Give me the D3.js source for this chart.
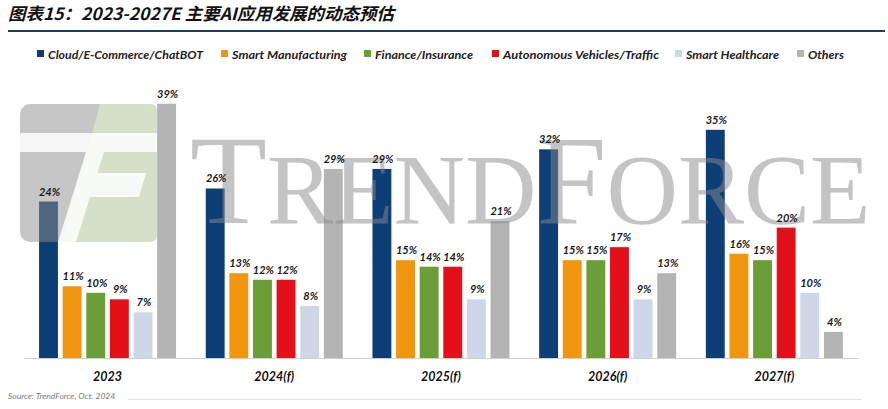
<!DOCTYPE html>
<html><head><meta charset="utf-8">
<script src="https://cdn.jsdelivr.net/npm/d3@7"></script>
<style>body{margin:0;background:#fff;}svg{display:block;}</style>
</head><body>
<svg id="c" width="888" height="409"></svg>
<script>
const years = ["2023","2024(f)","2025(f)","2026(f)","2027(f)"];
const seriesNames = ["Cloud/E-Commerce/ChatBOT","Smart Manufacturing","Finance/Insurance","Autonomous Vehicles/Traffic","Smart Healthcare","Others"];
const cloud      = [24,26,29,32,35];
const manufact   = [11,13,15,15,16];
const finance    = [10,12,14,15,15];
const autonomous = [9,12,14,17,20];
const health     = [7,8,9,9,10];
const others     = [39,29,21,13,4];
const colors = ["#0d3f77","#f0960f","#6b9e36","#e3101a","#cdd7e7","#b4b4b4"];
const legendX = [37,221,364,492,675,797];
const legendW = [155,115,98,156,93,36];
const title = "图表15：2023-2027E 主要AI应用发展的动态预估";
const source = "Source: TrendForce, Oct. 2024";

const allSeries = [cloud, manufact, finance, autonomous, health, others];
const svg = d3.select("#c");
const FONT = "Lato, 'Open Sans', sans-serif";

function drawWatermark(){
  const wm = svg.append("g").attr("opacity",0.5);
  wm.append("rect").attr("x",20).attr("y",104).attr("width",137).attr("height",138).attr("rx",10).attr("fill","#8e8e8e");
  wm.append("path").attr("d","M100,104 L150,104 Q157,104 157,111 L157,235 Q157,242 150,242 L62,242 Z").attr("fill","#aec093");
  const wmw = svg.append("g").attr("opacity",0.85);
  wmw.append("path").attr("d","M20,133 L157,133 L157,152 L20,152 Z").attr("fill","#fff");
  wmw.append("path").attr("d","M86,152 L104,152 L76,242 L58,242 Z").attr("fill","#fff");
  wmw.append("path").attr("d","M88,173 L146,173 L139,197 L80,197 Z").attr("fill","#fff");
  const wt = svg.append("text").attr("x",190).attr("y",223).attr("font-family","'Liberation Serif', serif")
    .attr("fill","#8a8a8a").attr("opacity",0.5);
  wt.append("tspan").attr("font-size",126).text("T");
  wt.append("tspan").attr("font-size",99).text("REND");
  wt.append("tspan").attr("font-size",126).text("F");
  wt.append("tspan").attr("font-size",99).text("ORCE");
}

// title
svg.append("text").attr("x",8).attr("y",20).attr("font-family","'Noto Sans CJK SC'")
  .attr("font-weight","bold").attr("font-style","italic").attr("font-size",17)
  .attr("fill","#111").attr("textLength",386).attr("lengthAdjust","spacingAndGlyphs").text(title);
svg.append("line").attr("x1",8).attr("x2",885).attr("y1",31).attr("y2",31)
  .attr("stroke","#1d3f66").attr("stroke-width",2.2);

// legend
seriesNames.forEach((n,i)=>{
  svg.append("rect").attr("x",legendX[i]).attr("y",50).attr("width",7).attr("height",7).attr("fill",colors[i]);
  svg.append("text").attr("x",legendX[i]+11).attr("y",58.5).attr("font-family",FONT)
    .attr("font-weight","bold").attr("font-style","italic").attr("font-size",12).attr("fill","#222")
    .attr("textLength",legendW[i]).attr("lengthAdjust","spacingAndGlyphs").text(n);
});

const x0 = d3.scaleBand().domain(years).range([24.2,857.7]).padding(0);
const x1 = d3.scaleBand().domain(d3.range(6)).range([14.85,151.85]).paddingInner(0.2);
const y = d3.scaleLinear().domain([0,40]).range([358,97.2]);

const data = [];
years.forEach((yr,gi)=>allSeries.forEach((s,si)=>data.push({yr,si,v:s[gi]})));

svg.append("g").selectAll("rect").data(data).join("rect")
  .attr("x",d=>x0(d.yr)+x1(d.si)).attr("width",x1.bandwidth())
  .attr("y",d=>y(d.v)).attr("height",d=>y(0)-y(d.v)).attr("fill",d=>colors[d.si]);

drawWatermark();

svg.append("g").selectAll("text").data(data).join("text")
  .attr("x",d=>x0(d.yr)+x1(d.si)+x1.bandwidth()/2+1).attr("y",d=>y(d.v)-6)
  .attr("text-anchor","middle").attr("font-family",FONT).attr("font-weight","bold")
  .attr("font-style","italic").attr("font-size",11).attr("fill","#1a1a1a").text(d=>d.v+"%");

const ax = svg.append("g").attr("transform","translate(0,358)")
  .call(d3.axisBottom(x0).tickSize(0).tickPadding(14));
ax.select(".domain").attr("stroke","#d0d0d0").attr("stroke-width",1.2);
ax.selectAll("text").attr("font-family",FONT).attr("font-weight","bold").attr("font-style","italic")
  .attr("font-size",12.5).attr("fill","#111");

svg.append("text").attr("x",8).attr("y",399).attr("font-family",FONT).attr("font-style","italic")
  .attr("font-size",8.5).attr("fill","#7a7a7a").text(source);
svg.append("line").attr("x1",128).attr("x2",862).attr("y1",399.5).attr("y2",399.5)
  .attr("stroke","#e2e2e2").attr("stroke-width",1);
</script>
</body></html>
